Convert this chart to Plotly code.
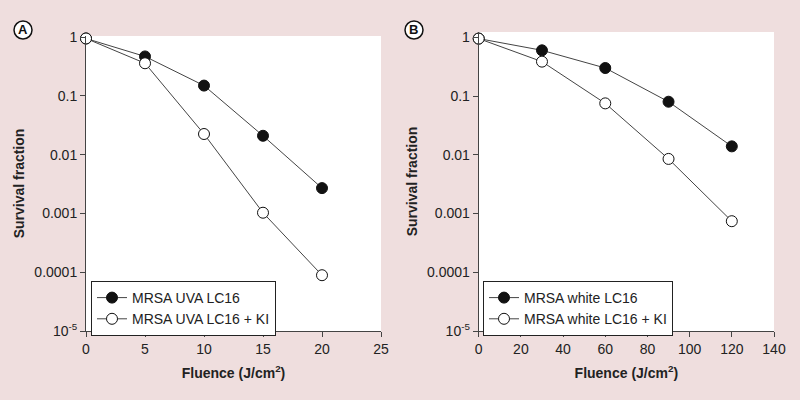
import plotly.graph_objects as go

# Panel A data (UVA)
fluence_a = [0, 5, 10, 15, 20]
uva_lc16 = [0.95, 0.47, 0.15, 0.021, 0.0027]
uva_lc16_err = [0.05, 0.06, 0.015, 0.002, 0.0003]
uva_lc16_ki = [0.95, 0.36, 0.0225, 0.00103, 0.000089]
uva_lc16_ki_err = [0.05, 0.05, 0.003, 0.0001, 0.00001]

# Panel B data (white light)
fluence_b = [0, 30, 60, 90, 120]
white_lc16 = [0.95, 0.6, 0.30, 0.08, 0.0139]
white_lc16_err = [0.05, 0.1, 0.06, 0.01, 0.002]
white_lc16_ki = [0.95, 0.385, 0.075, 0.0085, 0.00074]
white_lc16_ki_err = [0.05, 0.07, 0.01, 0.001, 0.0001]

y_tickvals = [1, 0.1, 0.01, 0.001, 0.0001, 0.00001]
y_ticktext = ["1", "0.1", "0.01", "0.001", "0.0001", "10<sup>-5</sup>"]

BG = "#EFDEDE"
LINE = "#444444"
FONT = "Liberation Sans, Arial, sans-serif"

fig = go.Figure()

def add_series(x, y, err, name, filled, xa, ya, legend):
    fig.add_trace(go.Scatter(
        x=x, y=y, name=name, mode="lines+markers",
        xaxis=xa, yaxis=ya, legend=legend, cliponaxis=False,
        line=dict(color=LINE, width=1),
        marker=dict(symbol="circle", size=11,
                    color="#111111" if filled else "white",
                    line=dict(color="#111111", width=1)),
        error_y=dict(type="data", array=err, visible=True, color="#222222",
                     thickness=1, width=0),
    ))

add_series(fluence_a, uva_lc16, uva_lc16_err, "MRSA UVA LC16", True, "x", "y", "legend")
add_series(fluence_a, uva_lc16_ki, uva_lc16_ki_err, "MRSA UVA LC16 + KI", False, "x", "y", "legend")
add_series(fluence_b, white_lc16, white_lc16_err, "MRSA white LC16", True, "x2", "y2", "legend2")
add_series(fluence_b, white_lc16_ki, white_lc16_ki_err, "MRSA white LC16 + KI", False, "x2", "y2", "legend2")

axis_common = dict(showline=True, linecolor=LINE, linewidth=1, ticks="outside",
                   ticklen=5, tickcolor=LINE, showgrid=False, zeroline=False,
                   tickfont=dict(size=14, color="#222222", family=FONT),
                   mirror=False, automargin=False)

W, H = 800, 400
fig.update_layout(
    width=W, height=H, autosize=False,
    margin=dict(l=0, r=0, t=0, b=0, pad=0),
    paper_bgcolor=BG, plot_bgcolor="white",
    font=dict(family=FONT, size=14, color="#222222"),
    showlegend=True,
    xaxis=dict(domain=[86 / W, 381 / W], range=[0, 25], tickvals=[0, 5, 10, 15, 20, 25],
               anchor="y",
               title=dict(text="<b>Fluence (J/cm<sup>2</sup>)</b>", font=dict(size=14), standoff=12),
               **axis_common),
    yaxis=dict(domain=[1 - 331 / H, 1 - 36 / H], type="log", range=[-5, 0.02],
               tickvals=y_tickvals, ticktext=y_ticktext, anchor="x",
               title=dict(text="<b>Survival fraction</b>", font=dict(size=14), standoff=6),
               **axis_common),
    xaxis2=dict(domain=[478.7 / W, 774 / W], range=[0, 140],
                tickvals=[0, 20, 40, 60, 80, 100, 120, 140], anchor="y2",
                title=dict(text="<b>Fluence (J/cm<sup>2</sup>)</b>", font=dict(size=14), standoff=12),
                **axis_common),
    yaxis2=dict(domain=[1 - 331 / H, 1 - 32 / H], type="log", range=[-5, 0.09],
                tickvals=y_tickvals, ticktext=y_ticktext, anchor="x2",
                title=dict(text="<b>Survival fraction</b>", font=dict(size=14), standoff=6),
                **axis_common),
    legend=dict(x=91 / W, y=1 - 281 / H, xanchor="left", yanchor="top",
                bgcolor="white", bordercolor="#222222", borderwidth=1,
                font=dict(size=14), entrywidth=178, tracegroupgap=0),
    legend2=dict(x=483 / W, y=1 - 281 / H, xanchor="left", yanchor="top",
                 bgcolor="white", bordercolor="#222222", borderwidth=1,
                 font=dict(size=14), entrywidth=178, tracegroupgap=0),
)

# Panel labels (circled letters)
for cx, cy, letter in [(23, 30, "A"), (414, 30, "B")]:
    r = 9
    fig.add_shape(type="circle", xref="paper", yref="paper",
                  x0=(cx - r) / W, x1=(cx + r) / W,
                  y0=1 - (cy + r) / H, y1=1 - (cy - r) / H,
                  line=dict(color="#111111", width=1.5), fillcolor="white")
    fig.add_annotation(x=cx / W, y=1 - cy / H, xref="paper", yref="paper",
                       text=f"<b>{letter}</b>", showarrow=False,
                       font=dict(size=13, color="#111111"),
                       xanchor="center", yanchor="middle")

fig.write_html("out.html", config={"displayModeBar": False},
               post_script="document.body.style.margin='0';document.documentElement.style.overflow='hidden';")
